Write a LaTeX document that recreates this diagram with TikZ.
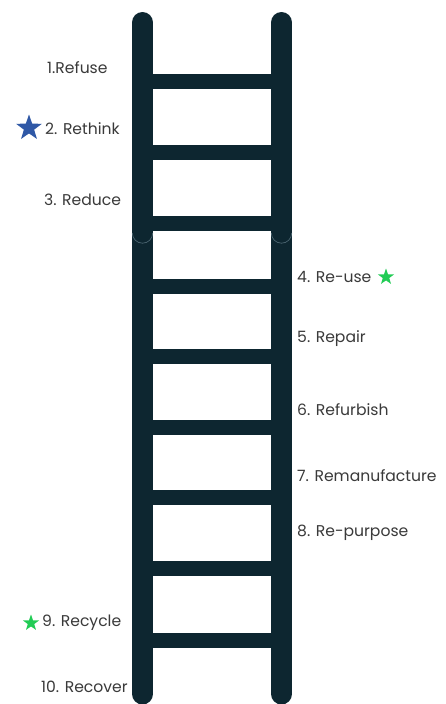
\documentclass[tikz,border=0pt]{standalone}
\usepackage{fontspec}
\setmainfont{Poppins}
\usetikzlibrary{shapes.geometric}
\definecolor{ladder}{HTML}{0D2630}
\definecolor{seam}{HTML}{4A6470}
\definecolor{txt}{HTML}{3A3A3A}
\definecolor{bluestar}{HTML}{2F58A6}
\definecolor{greenstar}{HTML}{22CC55}
\tikzset{
  rail/.style={draw=ladder, line width=21pt, line cap=round},
  rung/.style={draw=ladder, line width=15pt},
  lbl/.style={text=txt, font=\fontsize{15.6}{18}\selectfont, inner sep=0pt},
  starshape/.style={star, star points=5, star point ratio=2.5, inner sep=0pt, draw=none},
}
\begin{document}
\begin{tikzpicture}[x=1pt,y=-1pt]
\useasboundingbox[fill=white] (0,0) rectangle (446,704);
% rungs
\foreach \yy in {81,152,223,286,356,427,497,568,640}
  \draw[rung] (143,\yy) -- (282,\yy);
% rails
\draw[rail] (142.5,22.5) -- (142.5,694);
\draw[rail] (281.5,22.5) -- (281.5,694);
% seams
\draw[seam, line width=0.7pt] (132.3,233) arc[start angle=180, end angle=0, radius=10.2];
\draw[seam, line width=0.7pt] (271.3,233) arc[start angle=180, end angle=0, radius=10.2];
% labels
\node[lbl, anchor=west] (l1) at (47,68) {1.Refuse};
\node[lbl, anchor=west] (l2) at (45,129) {2. Rethink};
\node[lbl, anchor=west] (l3) at (44,200) {3. Reduce};
\node[lbl, anchor=west] (l4) at (297,277) {4. Re-use};
\node[lbl, anchor=west] (l5) at (297,339) {5. Repair};
\node[lbl, anchor=west] (l6) at (297,410) {6. Refurbish};
\node[lbl, anchor=west] (l7) at (297,476) {7. Remanufacture};
\node[lbl, anchor=west] (l8) at (297,533) {8. Re-purpose};
\node[lbl, anchor=west] (l9) at (42,623) {9. Recycle};
\node[lbl, anchor=west] (l10) at (41,687) {10. Recover};
% stars
\node[starshape, fill=bluestar, minimum size=27pt] (s2) at (29,128) {};
\node[starshape, fill=greenstar, minimum size=17pt] (s4) at (386,277) {};
\node[starshape, fill=greenstar, minimum size=17pt] (s9) at (31,623) {};
\end{tikzpicture}
\end{document}
